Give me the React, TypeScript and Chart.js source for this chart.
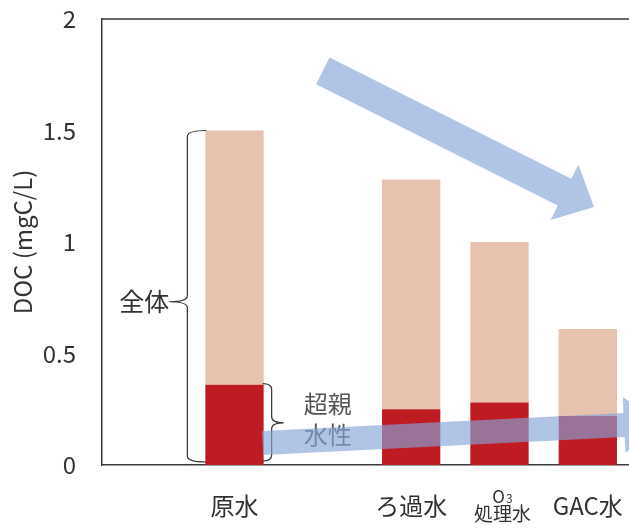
import React, { useEffect, useRef } from 'react';
import { Chart, registerables } from 'chart.js';

Chart.register(...registerables);

// Categories (first and third slots are spacers)
const categories = ['', '原水', '', 'ろ過水', 'O3処理水', 'GAC水'];
// Total DOC per treatment stage (mgC/L)
const totalDoc = [null, 1.5, null, 1.28, 1.0, 0.61];
// Super-hydrophilic fraction of DOC (mgC/L)
const hydrophilicDoc = [null, 0.36, null, 0.25, 0.28, 0.22];
// Y-axis ticks
const yTicks = [0, 0.5, 1, 1.5, 2];

const FONT = '"Noto Sans CJK JP", "Noto Sans", sans-serif';
const TEXT = '#333333';
const AXIS = '#3a3a3a';
const RED = '#be1b22';
const PINK = '#e7c2ae';
const ARROW = 'rgba(134, 165, 217, 0.65)';

// Trend arrows, anchored in data space: [category index, DOC value]
const trendArrows = [
  { from: [2.0, 1.767], to: [5.07, 1.157], shaft: 30, head: 62, headLen: 33 },
  { from: [1.318, 0.099], to: [5.84, 0.188], shaft: 24, head: 56, headLen: 38 },
];

function drawArrow(ctx: CanvasRenderingContext2D, x0: number, y0: number, x1: number, y1: number,
  shaft: number, head: number, headLen: number) {
  const dx = x1 - x0, dy = y1 - y0;
  const len = Math.hypot(dx, dy);
  const ux = dx / len, uy = dy / len;
  const nx = -uy, ny = ux;
  const bx = x1 - ux * headLen, by = y1 - uy * headLen;
  ctx.beginPath();
  ctx.moveTo(x0 + nx * shaft / 2, y0 + ny * shaft / 2);
  ctx.lineTo(bx + nx * shaft / 2, by + ny * shaft / 2);
  ctx.lineTo(bx + nx * head / 2, by + ny * head / 2);
  ctx.lineTo(x1, y1);
  ctx.lineTo(bx - nx * head / 2, by - ny * head / 2);
  ctx.lineTo(bx - nx * shaft / 2, by - ny * shaft / 2);
  ctx.lineTo(x0 - nx * shaft / 2, y0 - ny * shaft / 2);
  ctx.closePath();
  ctx.fill();
}

// Vertical curly brace: spine at x, ends bend by endDx, point bends by tipDx
function drawBrace(ctx: CanvasRenderingContext2D, x: number, yTop: number, yBot: number,
  tipY: number, endDx: number, tipDx: number) {
  const r = 6;
  ctx.beginPath();
  ctx.moveTo(x + endDx, yTop);
  ctx.quadraticCurveTo(x, yTop, x, yTop + r);
  ctx.lineTo(x, tipY - r);
  ctx.quadraticCurveTo(x, tipY, x + tipDx, tipY);
  ctx.moveTo(x + tipDx, tipY);
  ctx.quadraticCurveTo(x, tipY, x, tipY + r);
  ctx.lineTo(x, yBot - r);
  ctx.quadraticCurveTo(x, yBot, x + endDx, yBot);
  ctx.stroke();
}

const annotationPlugin = {
  id: 'docAnnotations',
  afterDraw(chart: any) {
    const { ctx, chartArea, scales } = chart;
    const xs = scales.x, ys = scales.y;
    ctx.save();

    // top frame line
    ctx.strokeStyle = AXIS;
    ctx.lineWidth = 1.5;
    ctx.beginPath();
    ctx.moveTo(chartArea.left, chartArea.top);
    ctx.lineTo(chartArea.right, chartArea.top);
    ctx.stroke();

    // category labels
    ctx.fillStyle = TEXT;
    ctx.textBaseline = 'middle';
    ctx.textAlign = 'center';
    categories.forEach((label, i) => {
      if (!label) return;
      const x = xs.getPixelForValue(i);
      if (label.startsWith('O3')) {
        const cx = x + 3;
        ctx.font = `17px ${FONT}`;
        const oW = ctx.measureText('O').width;
        ctx.font = `12px ${FONT}`;
        const sW = ctx.measureText('3').width;
        const start = cx - (oW + sW + 1) / 2;
        ctx.textAlign = 'left';
        ctx.textBaseline = 'alphabetic';
        ctx.font = `17px ${FONT}`;
        ctx.fillText('O', start, chartArea.bottom + 38);
        ctx.font = `12px ${FONT}`;
        ctx.fillText('3', start + oW + 1, chartArea.bottom + 38);
        ctx.textBaseline = 'middle';
        ctx.textAlign = 'center';
        ctx.font = `19px ${FONT}`;
        ctx.fillText(label.slice(2), cx, chartArea.bottom + 49);
      } else {
        ctx.font = `24px ${FONT}`;
        ctx.fillText(label, x, chartArea.bottom + 41);
      }
    });

    // braces around the raw-water bar
    const rawIdx = 1;
    const bar = chart.getDatasetMeta(0).data[rawIdx];
    const half = bar.width / 2;
    const barLeft = bar.x - half, barRight = bar.x + half;
    const y0 = ys.getPixelForValue(0);
    const yTotal = ys.getPixelForValue(totalDoc[rawIdx]);
    const yHydro = ys.getPixelForValue(hydrophilicDoc[rawIdx]);
    ctx.strokeStyle = TEXT;
    ctx.lineWidth = 1.2;

    const bigX = barLeft - 18;
    const bigTip = (yTotal + y0) / 2 + 4;
    drawBrace(ctx, bigX, yTotal, y0 - 3, bigTip, 19, -18);
    ctx.fillStyle = TEXT;
    ctx.font = `25px ${FONT}`;
    ctx.textAlign = 'right';
    ctx.fillText('全体', bigX - 18, bigTip);

    const smallX = barRight + 8;
    const smallTip = (yHydro + y0 - 4) / 2;
    drawBrace(ctx, smallX, yHydro - 1, y0 - 4, smallTip, -9, 12);
    ctx.fillStyle = '#555555';
    ctx.font = `24px ${FONT}`;
    ctx.textAlign = 'center';
    ctx.fillText('超親', smallX + 56, smallTip - 19);
    ctx.fillText('水性', smallX + 56, smallTip + 12);

    // trend arrows
    ctx.fillStyle = ARROW;
    trendArrows.forEach((a) => {
      drawArrow(ctx,
        xs.getPixelForValue(a.from[0]), ys.getPixelForValue(a.from[1]),
        xs.getPixelForValue(a.to[0]), ys.getPixelForValue(a.to[1]),
        a.shaft, a.head, a.headLen);
    });

    ctx.restore();
  },
};

export default function App() {
  const canvasRef = useRef<HTMLCanvasElement>(null);

  useEffect(() => {
    const canvas = canvasRef.current;
    if (!canvas) return;
    const remainder = totalDoc.map((t, i) =>
      t == null || hydrophilicDoc[i] == null ? null : +(t - (hydrophilicDoc[i] as number)).toFixed(3));

    const chart = new Chart(canvas, {
      type: 'bar',
      data: {
        labels: categories,
        datasets: [
          {
            label: '超親水性',
            data: hydrophilicDoc,
            backgroundColor: RED,
            borderWidth: 0,
            barPercentage: 0.66,
            categoryPercentage: 1,
          },
          {
            label: 'その他',
            data: remainder,
            backgroundColor: PINK,
            borderWidth: 0,
            barPercentage: 0.66,
            categoryPercentage: 1,
          },
        ],
      },
      options: {
        responsive: false,
        animation: false,
        devicePixelRatio: 1,
        layout: { padding: { top: 19, right: 8, bottom: 67, left: 0 } },
        plugins: {
          legend: { display: false },
          tooltip: { enabled: false },
        },
        scales: {
          x: {
            stacked: true,
            grid: { display: false, drawTicks: false },
            border: { display: true, color: AXIS, width: 1.5 },
            ticks: { display: false },
          },
          y: {
            stacked: true,
            min: 0,
            max: 2,
            afterBuildTicks: (scale: any) => {
              scale.ticks = yTicks.map((v) => ({ value: v }));
            },
            afterFit: (scale: any) => {
              scale.width = 102;
              scale.paddingTop = 0;
              scale.paddingBottom = 0;
            },
            grid: { display: false, drawTicks: false },
            border: { display: true, color: AXIS, width: 1.5 },
            ticks: {
              padding: 26,
              color: TEXT,
              font: { family: FONT, size: 24 },
              callback: (v: any) => String(v),
            },
            title: {
              display: true,
              text: 'DOC (mgC/L)',
              color: TEXT,
              font: { family: FONT, size: 24 },
              padding: { top: 8, bottom: 0 },
            },
          },
        },
      },
      plugins: [annotationPlugin],
    } as any);

    return () => chart.destroy();
  }, []);

  return (
    <div style={{ position: 'fixed', left: 0, top: 0, width: 629, height: 532, overflow: 'hidden', background: '#fff' }}>
      <canvas ref={canvasRef} width={640} height={532} />
    </div>
  );
}
